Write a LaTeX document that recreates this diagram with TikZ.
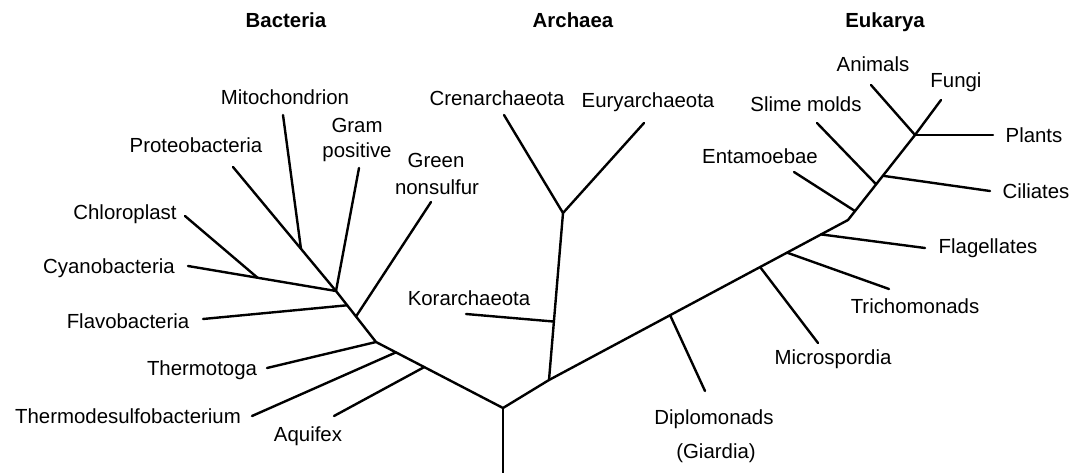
\documentclass[tikz,border=0pt]{standalone}
\usepackage{fontspec}
\setmainfont{Liberation Sans}
\usetikzlibrary{calc}
\begin{document}
\begin{tikzpicture}[x=1pt,y=-1pt,
  lab/.style={font=\fontsize{20.4}{24}\selectfont, inner sep=0pt, anchor=base},
  ttl/.style={font=\fontsize{20.4}{24}\selectfont\bfseries, inner sep=0pt, anchor=base},
  br/.style={line width=2.4pt, line cap=round, line join=round}]
\useasboundingbox (0,0) rectangle (1084,473);

% ---------- titles ----------
\node[ttl] (tBac) at (286,28) {Bacteria};
\node[ttl] (tArc) at (573,28) {Archaea};
\node[ttl] (tEuk) at (885,28) {Eukarya};

% ---------- labels ----------
\node[lab] (lMito) at (285,105) {Mitochondrion};
\node[lab] (lGram) at (357,133) {Gram};
\node[lab] (lPos) at (357,158) {positive};
\node[lab] (lGreen) at (436,168) {Green};
\node[lab] (lNons) at (437,195) {nonsulfur};
\node[lab] (lProteo) at (196,153) {Proteobacteria};
\node[lab] (lChloro) at (125,220) {Chloroplast};
\node[lab] (lCyano) at (109,273) {Cyanobacteria};
\node[lab] (lFlavo) at (128,328) {Flavobacteria};
\node[lab] (lThermo) at (202,375) {Thermotoga};
\node[lab] (lTd) at (128,423) {Thermodesulfobacterium};
\node[lab] (lAq) at (308,441) {Aquifex};
\node[lab] (lCren) at (497,106) {Crenarchaeota};
\node[lab] (lEury) at (648,108) {Euryarchaeota};
\node[lab] (lKor) at (469,305) {Korarchaeota};
\node[lab] (lAni) at (873,72) {Animals};
\node[lab] (lFun) at (956,88) {Fungi};
\node[lab] (lSli) at (806,112) {Slime molds};
\node[lab] (lPla) at (1034,143) {Plants};
\node[lab] (lEnt) at (760,164) {Entamoebae};
\node[lab] (lCil) at (1036,199) {Ciliates};
\node[lab] (lFla) at (988,253) {Flagellates};
\node[lab] (lTri) at (915,313) {Trichomonads};
\node[lab] (lMic) at (833,364) {Microspordia};
\node[lab] (lDip) at (714,424) {Diplomonads};
\node[lab] (lGia) at (716,458) {(Giardia)};

% ---------- tree coordinates ----------
\coordinate (base) at (503,473);
\coordinate (R) at (503,408);
% Bacteria
\coordinate (bTt) at (376,342);
\coordinate (bCy) at (336,291);
\coordinate (eProteo) at (233,167);
\coordinate (bAq) at ($(R)!0.62!(bTt)$);
\coordinate (bTd) at ($(R)!0.843!(bTt)$);
\coordinate (bGn) at ($(bTt)!0.5!(bCy)$);
\coordinate (bFl) at ($(bTt)!0.72!(bCy)$);
\coordinate (bMi) at ($(bCy)!0.34!(eProteo)$);
\coordinate (eCyano) at (188,266);
\coordinate (bCh) at ($(bCy)!0.53!(eCyano)$);
\coordinate (eMito) at (283,115);
\coordinate (eGram) at (359,168);
\coordinate (eGreen) at (431,202);
\coordinate (eChloro) at (185,216);
\coordinate (eFlavo) at (203,319);
\coordinate (eThermo) at (267,368);
\coordinate (eTd) at (252,416);
\coordinate (eAq) at (334,416);
% Archaea
\coordinate (E0) at (549,380);
\coordinate (A) at (563,213);
\coordinate (aK) at ($(E0)!0.35!(A)$);
\coordinate (eKor) at (466,314);
\coordinate (eCren) at (504,115);
\coordinate (eEury) at (644,123);
% Eukarya
\coordinate (kBend) at (848,220);
\coordinate (J) at (915,135);
\coordinate (kD) at ($(E0)!0.405!(kBend)$);
\coordinate (kM) at ($(E0)!0.706!(kBend)$);
\coordinate (kT) at ($(E0)!0.796!(kBend)$);
\coordinate (kF) at ($(E0)!0.91!(kBend)$);
\coordinate (kE) at ($(kBend)!0.105!(J)$);
\coordinate (kS) at ($(kBend)!0.42!(J)$);
\coordinate (kC) at ($(kBend)!0.52!(J)$);
\coordinate (eDip) at (705,391);
\coordinate (eMic) at (818,343);
\coordinate (eTri) at (889,289);
\coordinate (eFla) at (925,248);
\coordinate (eEnt) at (794,172);
\coordinate (eSli) at (817,123);
\coordinate (eCil) at (990,191);
\coordinate (eAni) at (871,85);
\coordinate (eFun) at (941,100);
\coordinate (ePla) at (993,135);

% ---------- branches ----------
\draw[br] (base) -- (R);
% Bacteria
\draw[br] (R) -- (bTt) -- (bCy) -- (eProteo);
\draw[br] (bAq) -- (eAq);
\draw[br] (bTd) -- (eTd);
\draw[br] (bTt) -- (eThermo);
\draw[br] (bGn) -- (eGreen);
\draw[br] (bFl) -- (eFlavo);
\draw[br] (bCy) -- (eCyano);
\draw[br] (bCh) -- (eChloro);
\draw[br] (bCy) -- (eGram);
\draw[br] (bMi) -- (eMito);
% Archaea
\draw[br] (R) -- (E0) -- (A);
\draw[br] (aK) -- (eKor);
\draw[br] (A) -- (eCren);
\draw[br] (A) -- (eEury);
% Eukarya
\draw[br] (E0) -- (kBend) -- (J);
\draw[br] (kD) -- (eDip);
\draw[br] (kM) -- (eMic);
\draw[br] (kT) -- (eTri);
\draw[br] (kF) -- (eFla);
\draw[br] (kE) -- (eEnt);
\draw[br] (kS) -- (eSli);
\draw[br] (kC) -- (eCil);
\draw[br] (J) -- (eAni);
\draw[br] (J) -- (eFun);
\draw[br] (J) -- (ePla);
\end{tikzpicture}
\end{document}
